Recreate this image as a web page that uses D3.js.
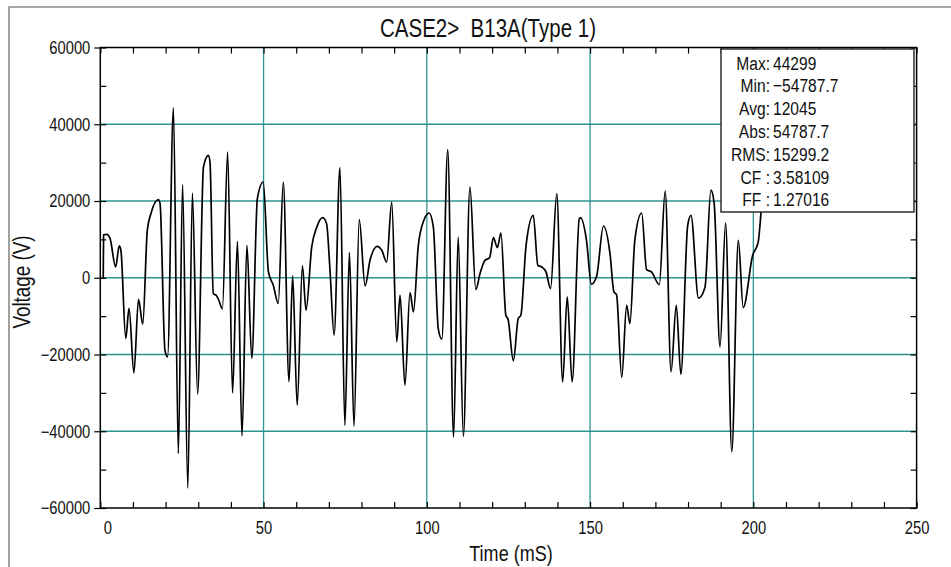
<!DOCTYPE html>
<html><head><meta charset="utf-8">
<script src="https://cdn.jsdelivr.net/npm/d3@7"></script>
<style>
body{margin:0;background:#fff;}
svg{display:block;}
text{font-family:"Liberation Sans",Arial,sans-serif;fill:#111;}
</style></head><body>
<svg id="c" width="951" height="567"></svg>
<script>
// ---- data ----
const times = [0.9,1.0,2.0,3.0,4.7,5.8,6.3,7.8,8.8,10.3,11.7,13.0,14.4,15.5,17.8,18.3,19.8,20.6,22.4,23.9,25.2,26.8,28.2,29.8,31.6,33.1,33.6,34.6,35.6,36.3,37.4,39.0,40.5,42.0,43.4,44.9,46.4,48.1,49.9,51.5,53.0,54.5,56.05,57.8,58.9,60.3,61.9,63.0,64.75,66.3,68.1,69.3,70.35,71.6,73.4,74.9,76.3,77.7,79.3,81.1,82.6,84.8,86.2,87.7,89.25,90.8,91.8,93.3,94.85,95.9,97.4,99.1,100.7,102.0,103.5,104.6,106.4,108.2,109.6,111.2,113.2,115.0,116.3,117.8,119.2,120.4,121.6,122.7,124.2,124.9,126.5,128.0,128.8,130.4,132.6,134.0,135.2,136.5,137.9,139.8,141.6,143.0,144.5,146.7,147.1,148.9,150.4,152.0,154.1,156.1,157.3,158.1,159.7,161.2,162.2,163.7,165.8,167.3,168.8,171.2,173.0,174.8,176.4,177.8,179.9,180.9,183.2,185.2,187.0,188.0,189.8,191.5,193.4,195.4,196.9,199.8,201.5,202.6,204.5];
const volts = [0,11200,11300,10200,2800,8300,7200,-15800,-8000,-24800,-5600,-12100,12400,16700,20350,19300,-18900,-20600,44300,-45800,24260,-54800,22070,-30300,28850,31900,30150,-4100,-4700,-5860,-8100,32750,-30000,9500,-41200,8460,-21000,20600,24950,1500,-2000,-6700,24950,-27100,470,-33200,3070,-8460,8020,13200,15660,14100,1950,-14970,28680,-38400,6550,-38650,15150,-2130,4550,8200,7160,4100,19730,-16700,-4550,-28000,-3850,-8900,8460,14970,16870,13220,-13230,-16000,33370,-41500,10620,-41300,23640,-3070,1090,4550,5160,10460,7850,11660,-9760,-10880,-21650,-10620,-9760,8460,16270,3250,2810,1510,-2810,21910,-27120,-5000,-27120,15400,15600,9760,-1700,390,13490,6290,-3690,-4400,-25980,-7160,-11930,9760,16870,2130,1510,-1770,22600,-24520,-7160,-25120,13670,16270,-5300,-2450,22850,19400,-18000,14270,-45340,9760,-7770,5850,9330,19300,30000];
const xMajorTicks = [0,50,100,150,200,250];
const xMinorTicks = d3.range(0,251,10);
const yMajorTicks = [-60000,-40000,-20000,0,20000,40000,60000];
const yMinorTicks = d3.range(-60000,60001,10000);
const xGrid = [50,100,150,200];
const yGrid = [-40000,-20000,0,20000,40000];
const statLabels = ["Max:","Min:","Avg:","Abs:","RMS:","CF :","FF :"];
const statValues = ["44299","\u221254787.7","12045","54787.7","15299.2","3.58109","1.27016"];
const titleText = "CASE2>  B13A(Type 1)";
const xLabel = "Time (mS)";
const yLabel = "Voltage (V)";

// ---- layout ----
const L = 100.3, R = 916.6, T = 47.5, B = 508;
const SX = 0.82; // horizontal condensing of text
const svg = d3.select("#c");
const x = d3.scaleLinear().domain([0,250]).range([L,R]);
const y = d3.scaleLinear().domain([-60000,60000]).range([B,T]);

function label(px, py, str, size, anchor, rot){
  return svg.append("text")
    .attr("transform",`translate(${px},${py})${rot?` rotate(${rot})`:""} scale(${SX},1)`)
    .attr("text-anchor",anchor||"start").attr("font-size",size)
    .style("white-space","pre").text(str);
}

// outer frame
svg.append("path").attr("d","M9,567V7H951").attr("fill","none").attr("stroke","#8a8a8a").attr("stroke-width",1.6);

// grid
const teal = "#2f9393";
svg.append("g").selectAll("line").data(xGrid).join("line")
  .attr("x1",d=>x(d)).attr("x2",d=>x(d)).attr("y1",T).attr("y2",B)
  .attr("stroke",teal).attr("stroke-width",1.3);
svg.append("g").selectAll("line").data(yGrid).join("line")
  .attr("x1",L).attr("x2",R).attr("y1",d=>y(d)).attr("y2",d=>y(d))
  .attr("stroke",teal).attr("stroke-width",1.3);

// waveform
svg.append("clipPath").attr("id","clip").append("rect").attr("x",L).attr("y",T).attr("width",R-L).attr("height",B-T);
const pts = times.map((t,i)=>[t,volts[i]]);
const line = d3.line().x(d=>x(d[0])).y(d=>y(d[1])).curve(d3.curveMonotoneX);
svg.append("path").datum(pts).attr("d",line).attr("fill","none")
  .attr("stroke","#000").attr("stroke-width",1.7).attr("stroke-linejoin","round").attr("clip-path","url(#clip)");

// axes
const fs = 18;
const gB = svg.append("g").attr("transform",`translate(0,${B})`)
  .call(d3.axisBottom(x).tickValues(xMinorTicks).tickSize(-6).tickFormat(""));
const gBL = svg.append("g").attr("transform",`translate(0,${B})`)
  .call(d3.axisBottom(x).tickValues(xMajorTicks).tickSize(0).tickPadding(13).tickFormat(d3.format("d")));
const gT = svg.append("g").attr("transform",`translate(0,${T})`)
  .call(d3.axisTop(x).tickValues(xMinorTicks).tickSize(-6).tickFormat(""));
const gL = svg.append("g").attr("transform",`translate(${L},0)`)
  .call(d3.axisLeft(y).tickValues(yMinorTicks).tickSize(-6).tickFormat(""));
const gLL = svg.append("g").attr("transform",`translate(${L},0)`)
  .call(d3.axisLeft(y).tickValues(yMajorTicks).tickSize(6).tickPadding(4).tickFormat(d3.format("d")));
const gR = svg.append("g").attr("transform",`translate(${R},0)`)
  .call(d3.axisRight(y).tickValues(yMinorTicks).tickSize(-6).tickFormat(""));
[gB,gBL,gT,gL,gLL,gR].forEach(g=>{
  g.select(".domain").remove();
  g.selectAll(".tick line").attr("stroke","#000").attr("stroke-width",1.2);
  g.selectAll("text").attr("font-size",fs).attr("font-family",null).attr("fill","#111");
});
gB.selectAll(".tick text").remove();
// condense tick labels horizontally
gBL.selectAll(".tick text").attr("transform",`scale(${SX},1)`)
  .attr("x",d=>d===0?7/SX:0);
gLL.selectAll(".tick text").each(function(){
  const t = d3.select(this);
  t.attr("x",(+t.attr("x"))/SX).attr("transform",`scale(${SX},1)`);
});

// stats box
const bx = 721, by = 49, bw = 193, bh = 163;
svg.append("rect").attr("x",bx).attr("y",by).attr("width",bw).attr("height",bh)
  .attr("fill","#fff").attr("stroke","#222").attr("stroke-width",1.4);
statLabels.forEach((s,i)=>{
  label(770, 69.5+i*22.8, s, 19, "end");
  label(773, 69.5+i*22.8, statValues[i], 19, "start");
});

// plot border
svg.append("rect").attr("x",L).attr("y",T).attr("width",R-L).attr("height",B-T)
  .attr("fill","none").attr("stroke","#000").attr("stroke-width",1.5);

// titles
label(488, 37, titleText, 25, "middle");
label(511, 561, xLabel, 22, "middle");
label(30, 282, yLabel, 23, "middle", -90);
</script>
</body></html>
